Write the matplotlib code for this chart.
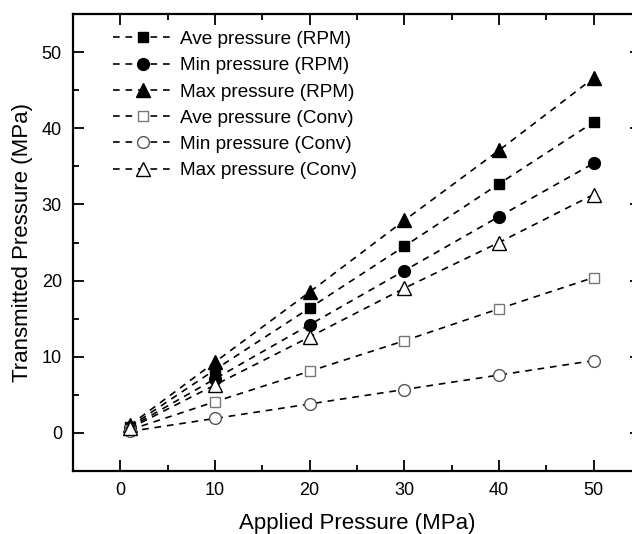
import matplotlib
matplotlib.use('Agg')
import matplotlib.pyplot as plt
from matplotlib.ticker import MultipleLocator

plt.rcParams['font.family'] = ['Liberation Sans', 'DejaVu Sans']
plt.rcParams['font.size'] = 12

applied = [1, 10, 20, 30, 40, 50]

ave_rpm = [0.8, 8.3, 16.4, 24.5, 32.7, 40.8]
min_rpm = [0.7, 7.1, 14.2, 21.3, 28.4, 35.4]
max_rpm = [1.0, 9.3, 18.5, 27.9, 37.1, 46.6]
ave_conv = [0.4, 4.1, 8.1, 12.1, 16.3, 20.4]
min_conv = [0.2, 1.9, 3.8, 5.7, 7.6, 9.5]
max_conv = [0.6, 6.3, 12.6, 19.0, 25.0, 31.3]

labels = ['Ave pressure (RPM)', 'Min pressure (RPM)', 'Max pressure (RPM)',
          'Ave pressure (Conv)', 'Min pressure (Conv)', 'Max pressure (Conv)']

fig = plt.figure(figsize=(6.32, 5.34), dpi=100)
# right spine sits just outside the image, as in the reference crop
ax = fig.add_axes([73 / 632, 1 - 471 / 534, 568 / 632, 457 / 534])

dash = (0, (4, 3.5))
series = [
    (ave_rpm, 's', 'black', 'black', 7),
    (min_rpm, 'o', 'black', 'black', 8.5),
    (max_rpm, '^', 'black', 'black', 9.5),
    (ave_conv, 's', 'white', '#777777', 7),
    (min_conv, 'o', 'white', '#555555', 8.5),
    (max_conv, '^', 'white', 'black', 9.5),
]
for (vals, mk, fc, ec, ms), lab in zip(series, labels):
    ax.plot(applied, vals, color='black', linestyle=dash, linewidth=1.2,
            marker=mk, markersize=ms, markerfacecolor=fc,
            markeredgecolor=ec, markeredgewidth=1.0, label=lab)

ax.set_xlim(-5, 55)
ax.set_ylim(-5, 55)
ax.xaxis.set_major_locator(MultipleLocator(10))
ax.xaxis.set_minor_locator(MultipleLocator(5))
ax.yaxis.set_major_locator(MultipleLocator(10))
ax.yaxis.set_minor_locator(MultipleLocator(5))
ax.tick_params(which='both', direction='in', top=True, right=True,
               labelsize=13, width=1.3)
ax.tick_params(which='major', length=8, pad=8)
ax.tick_params(which='minor', length=4)
for s in ax.spines.values():
    s.set_linewidth(1.6)

ax.set_xlabel('Applied Pressure (MPa)', fontsize=16, labelpad=10)
ax.set_ylabel('Transmitted Pressure (MPa)', fontsize=16, labelpad=6)

ax.legend(loc='upper left', bbox_to_anchor=(0.057, 0.98), frameon=False,
          fontsize=13.7, handlelength=3.2, handletextpad=0.3,
          labelspacing=0.47, borderaxespad=0)

fig.savefig('out.png', dpi=100)
plt.close()
